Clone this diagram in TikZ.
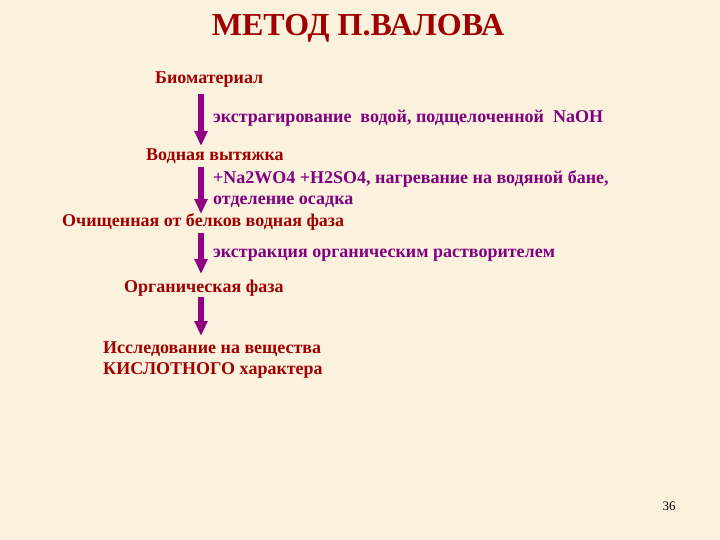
\documentclass[tikz,border=0pt]{standalone}
\usepackage{fontspec}
\setmainfont{Liberation Serif}
\usepackage{tikz}
\usetikzlibrary{arrows.meta}

\definecolor{paper}{RGB}{251,242,222}
\definecolor{darkred}{RGB}{160,0,0}
\definecolor{violet}{RGB}{128,0,128}
\definecolor{arrowcol}{RGB}{145,0,130}

\tikzset{
  stage/.style={anchor=base west,inner sep=0pt,text=darkred,
    font=\fontsize{18bp}{22bp}\selectfont\bfseries},
  action/.style={anchor=base west,inner sep=0pt,text=violet,
    font=\fontsize{18bp}{22bp}\selectfont\bfseries},
  flow/.style={arrowcol,line width=6.5bp,
    -{Triangle[width=12.5bp,length=15bp]}}
}

\begin{document}
\begin{tikzpicture}[x=1bp,y=-1bp]
\fill[paper] (0,0) rectangle (720,540);
\useasboundingbox (0,0) rectangle (720,540);

% title
\node[anchor=base,inner sep=0pt,text=darkred,
  font=\fontsize{32bp}{36bp}\selectfont\bfseries] (title) at (358,36) {МЕТОД П.ВАЛОВА};

% stages
\node[stage] (bio) at (155,84) {Биоматериал};
\node[action] (extr) at (213,123) {экстрагирование\ \ водой, подщелоченной\ \ NaOH};
\node[stage] (water) at (146,161) {Водная вытяжка};
\node[action] (reag) at (213,184) {+Na2WO4 +H2SO4, нагревание на водяной бане,};
\node[action] (sep) at (213,205) {отделение осадка};
\node[stage] (clean) at (62,227) {Очищенная от белков водная фаза};
\node[action] (solv) at (213,258) {экстракция органическим растворителем};
\node[stage] (org) at (124,292) {Органическая фаза};
\node[stage] (res) at (103,353) {Исследование на вещества};
\node[stage] (acid) at (103,374) {КИСЛОТНОГО характера};

% page number
\node[anchor=base,inner sep=0pt,font=\fontsize{13bp}{15bp}\selectfont] (page) at (669,510) {36};

% arrows
\coordinate (a1) at (201,94);  \coordinate (b1) at (201,146);
\coordinate (a2) at (201,167); \coordinate (b2) at (201,214);
\coordinate (a3) at (201,233); \coordinate (b3) at (201,274);
\coordinate (a4) at (201,297); \coordinate (b4) at (201,336);
\foreach \i in {1,...,4}
  \draw[flow] (a\i) -- (b\i);

\end{tikzpicture}
\end{document}
